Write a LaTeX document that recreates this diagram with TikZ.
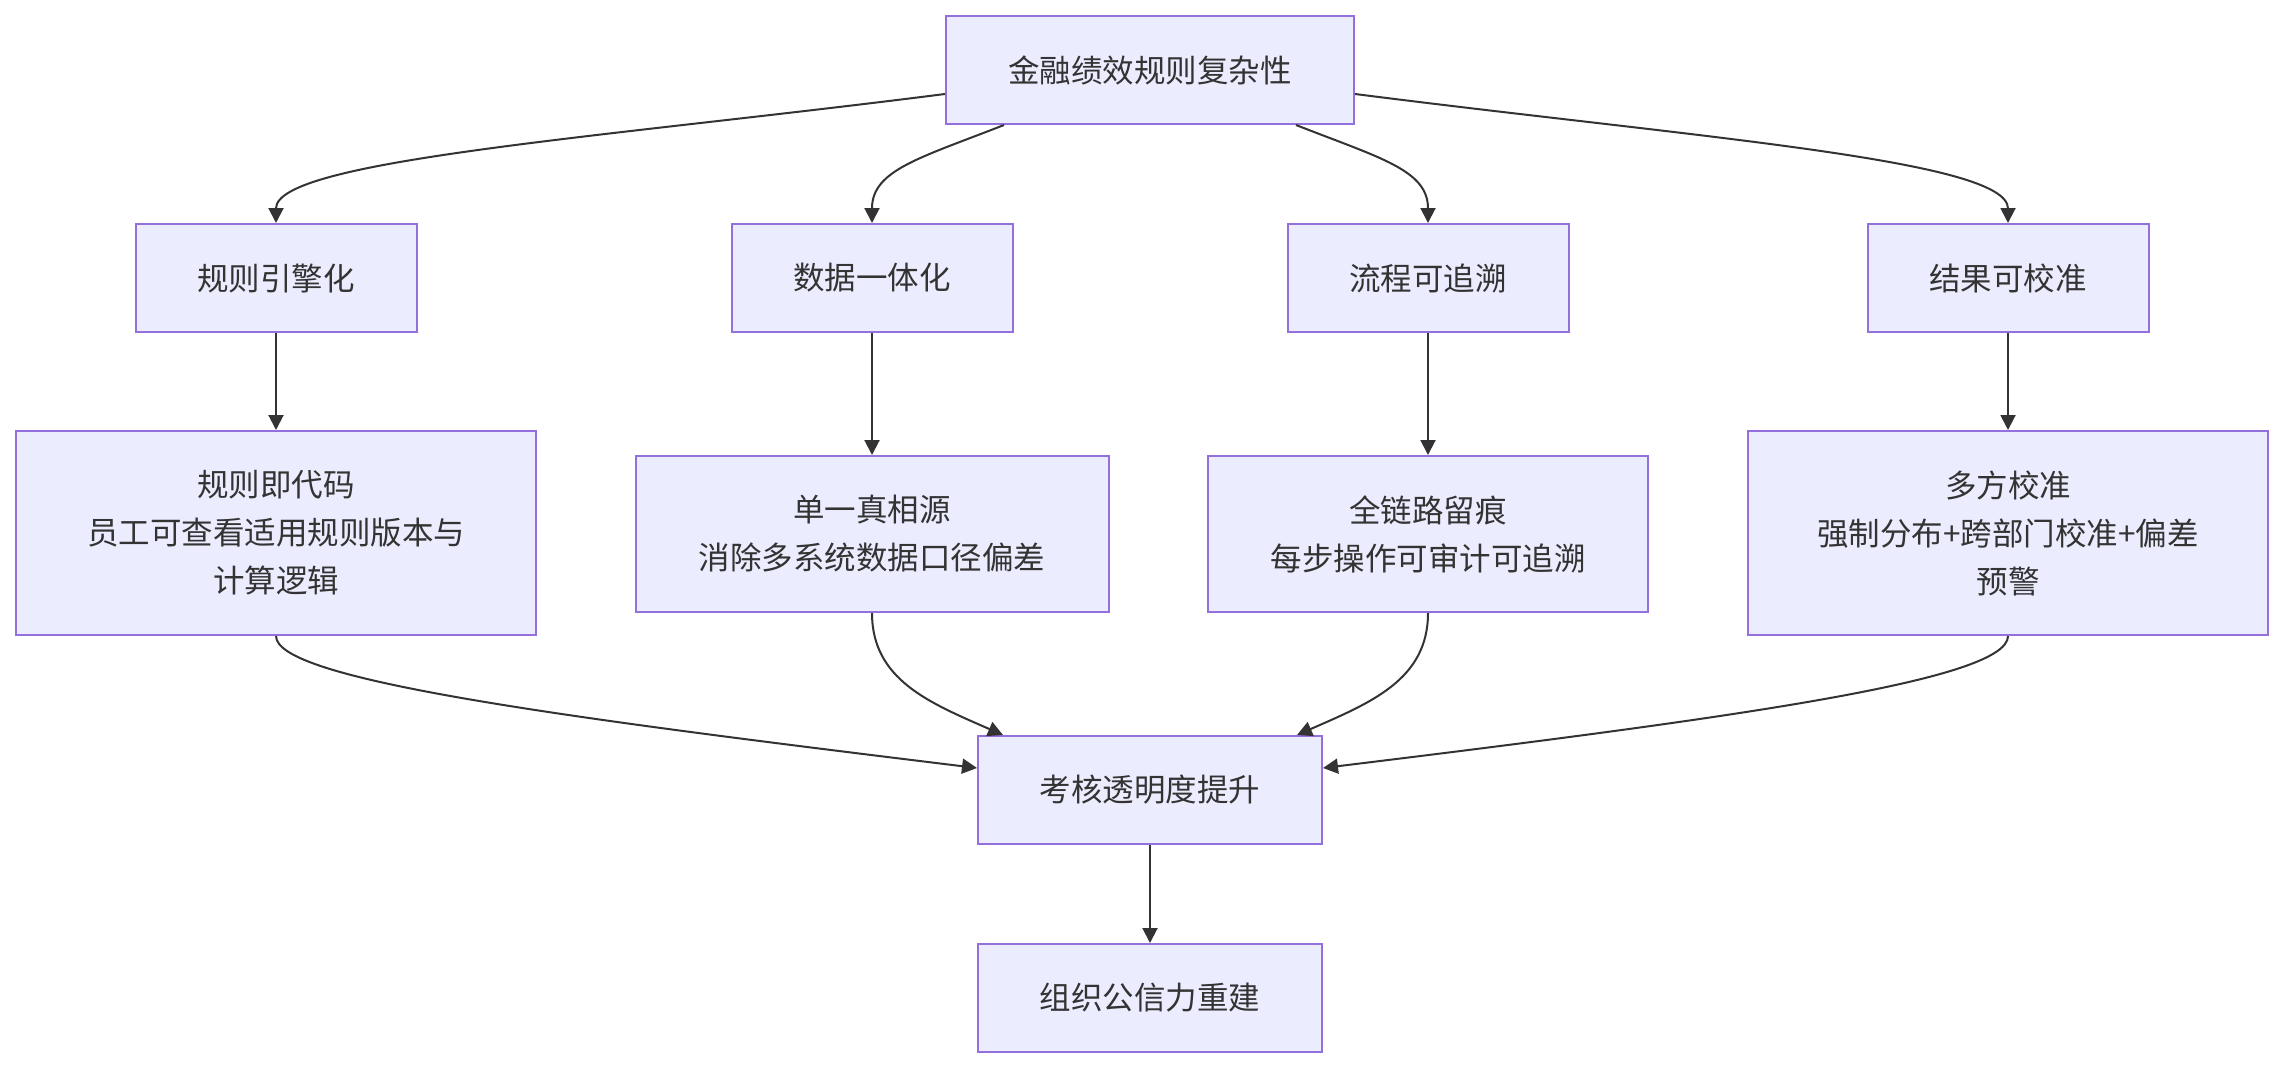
\documentclass[tikz,border=0pt]{standalone}
\usepackage{fontspec}
\setmainfont{Noto Sans CJK SC}
\usetikzlibrary{arrows.meta}
\definecolor{boxfill}{HTML}{ECECFF}
\definecolor{boxline}{HTML}{9370DB}
\definecolor{ink}{HTML}{333333}
\tikzset{
  box/.style={draw=boxline, fill=boxfill, line width=2pt, text=ink, align=center,
    inner sep=0pt, font=\fontsize{31.5pt}{48pt}\selectfont},
  link/.style={draw=ink, line width=2pt, -{Triangle[length=15pt,width=15pt]}}
}
\begin{document}
\begin{tikzpicture}[x=1pt,y=-1pt]
\useasboundingbox (0,0) rectangle (2284,1068);
% top
\node[box, minimum width=408pt, minimum height=108pt] (top) at (1150,70) {金融绩效规则复杂性};
% level 2
\node[box, minimum width=281pt, minimum height=108pt] (A) at (276,278) {规则引擎化};
\node[box, minimum width=281pt, minimum height=108pt] (B) at (872,278) {数据一体化};
\node[box, minimum width=281pt, minimum height=108pt] (C) at (1428,278) {流程可追溯};
\node[box, minimum width=281pt, minimum height=108pt] (D) at (2008,278) {结果可校准};
% level 3
\node[box, minimum width=520pt, minimum height=204pt] (A2) at (276,533) {规则即代码\\员工可查看适用规则版本与\\计算逻辑};
\node[box, minimum width=473pt, minimum height=156pt] (B2) at (872,534) {单一真相源\\消除多系统数据口径偏差};
\node[box, minimum width=440pt, minimum height=156pt] (C2) at (1428,534) {全链路留痕\\每步操作可审计可追溯};
\node[box, minimum width=520pt, minimum height=204pt] (D2) at (2008,533) {多方校准\\强制分布+跨部门校准+偏差\\预警};
% bottom
\node[box, minimum width=344pt, minimum height=108pt] (E) at (1150,790) {考核透明度提升};
\node[box, minimum width=344pt, minimum height=108pt] (F) at (1150,998) {组织公信力重建};
% edges top -> level 2
\draw[link] ([yshift=-24pt]top.west) .. controls (600,138) and (276,160) .. (A.north);
\draw[link] ([xshift=-146pt]top.south) .. controls (920,158) and (872,170) .. (B.north);
\draw[link] ([xshift=146pt]top.south) .. controls (1380,158) and (1428,170) .. (C.north);
\draw[link] ([yshift=-24pt]top.east) .. controls (1700,138) and (2008,160) .. (D.north);
% level 2 -> level 3
\draw[link] (A.south) -- (A2.north);
\draw[link] (B.south) -- (B2.north);
\draw[link] (C.south) -- (C2.north);
\draw[link] (D.south) -- (D2.north);
% level 3 -> E
\draw[link] (A2.south) .. controls (276,680) and (560,717) .. ([yshift=22pt]E.west);
\draw[link] (B2.south) .. controls (872,680) and (930,703) .. ([xshift=-147pt]E.north);
\draw[link] (C2.south) .. controls (1428,680) and (1370,703) .. ([xshift=147pt]E.north);
\draw[link] (D2.south) .. controls (2008,680) and (1740,717) .. ([yshift=22pt]E.east);
% E -> F
\draw[link] (E.south) -- (F.north);
\end{tikzpicture}
\end{document}
